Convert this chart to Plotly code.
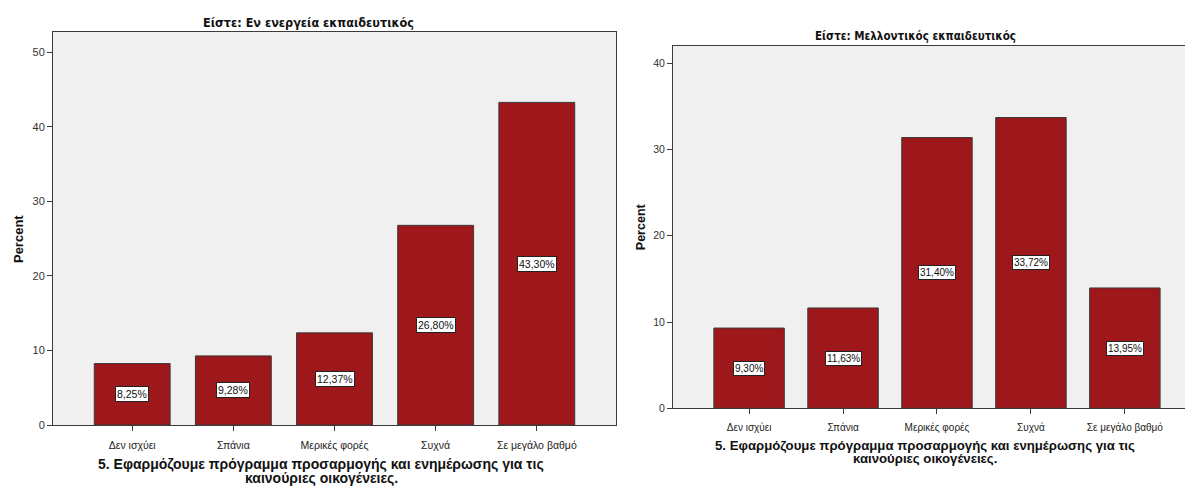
import plotly.graph_objects as go

# Response categories (x axis)
categories = ["Δεν ισχύει", "Σπάνια", "Μερικές φορές", "Συχνά", "Σε μεγάλο βαθμό"]

# Percent of respondents per group
pct_active = [8.25, 9.28, 12.37, 26.80, 43.30]
pct_future = [9.30, 11.63, 31.40, 33.72, 13.95]

panel_titles = ["Είστε: Εν ενεργεία εκπαιδευτικός", "Είστε: Μελλοντικός εκπαιδευτικός"]
x_title_lines = ["5. Εφαρμόζουμε πρόγραμμα προσαρμογής και ενημέρωσης για τις",
                 "καινούριες οικογένειες."]
y_title = "Percent"
y_ticks_active = [0, 10, 20, 30, 40, 50]
y_ticks_future = [0, 10, 20, 30, 40]

W, H = 1185, 489
BAR = "#9E171B"
EDGE = "#3a3a3a"
BG = "#F0F0F0"
FONT = "Liberation Sans, Arial, sans-serif"
NARROW = "Liberation Sans Narrow, DejaVu Sans Condensed, Arial Narrow, sans-serif"


def px_x(x):
    return x / W


def px_y(y):
    return 1 - y / H


def fmt(v):
    return f"{v:.2f}".replace(".", ",") + "%"


def label(x, y, text, size, family=FONT, angle=0):
    fig.add_annotation(x=px_x(x), y=px_y(y), xref="paper", yref="paper",
                       xanchor="center", yanchor="middle", text=text,
                       showarrow=False, textangle=angle, borderpad=0,
                       font=dict(family=family, size=size, color="#111"))


fig = go.Figure()

panels = [
    dict(vals=pct_active, xa="x", ya="y", fs=10.5),
    dict(vals=pct_future, xa="x2", ya="y2", fs=10),
]

for p in panels:
    fig.add_trace(go.Bar(
        x=categories, y=p["vals"], xaxis=p["xa"], yaxis=p["ya"],
        width=0.75, marker=dict(color=BAR, line=dict(color=EDGE, width=1)),
        hoverinfo="skip", showlegend=False,
    ))
    # value labels in the middle of each bar
    for c, v in zip(categories, p["vals"]):
        fig.add_annotation(
            x=c, y=v / 2, xref=p["xa"], yref=p["ya"], text=fmt(v),
            xanchor="center", yanchor="middle",
            showarrow=False, bgcolor="white", bordercolor="#222", borderwidth=1,
            borderpad=1, font=dict(family=FONT, size=p["fs"], color="#111"),
        )

axis_common = dict(
    showgrid=False, zeroline=False, showline=True, linecolor=EDGE, linewidth=1,
    ticks="outside", ticklen=5, tickcolor=EDGE, tickwidth=1,
)

fig.update_layout(
    width=W, height=H,
    margin=dict(l=0, r=0, t=0, b=0),
    paper_bgcolor="white", plot_bgcolor=BG,
    xaxis=dict(**axis_common, mirror=True, domain=[px_x(53), px_x(616)],
               range=[-0.783, 4.783], anchor="y", categoryorder="array",
               categoryarray=categories, ticklabelstandoff=5,
               tickfont=dict(family=FONT, size=10.5, color="#222")),
    yaxis=dict(**axis_common, mirror=True, domain=[px_y(430.3), px_y(32)],
               range=[0, 52.8], tickvals=y_ticks_active, anchor="x",
               tickfont=dict(family=FONT, size=11, color="#333")),
    xaxis2=dict(**axis_common, mirror=True, domain=[px_x(673), 1.0],
                range=[-0.81, 4.64], anchor="y2", categoryorder="array",
                categoryarray=categories, ticklabelstandoff=5,
                tickfont=dict(family=FONT, size=10, color="#222")),
    yaxis2=dict(**axis_common, mirror=False, domain=[px_y(413.3), px_y(46.7)],
                range=[0, 42.0], tickvals=y_ticks_future, anchor="x2",
                tickfont=dict(family=FONT, size=10.5, color="#333")),
)

# panel titles
label(308, 23, f"<b>{panel_titles[0]}</b>", 12.5, NARROW)
label(915, 36, f"<b>{panel_titles[1]}</b>", 11.5, NARROW)

# x axis titles, one annotation per line
for i, line in enumerate(x_title_lines):
    label(321, 470 + 14 * i, f"<b>{line}</b>", 14)
    label(925, 451 + 13.5 * i, f"<b>{line}</b>", 13.2)

# y axis titles
label(18, 242, f"<b>{y_title}</b>", 13, angle=-90)
label(641, 230, f"<b>{y_title}</b>", 12.5, angle=-90)

fig.write_html("out.html")
